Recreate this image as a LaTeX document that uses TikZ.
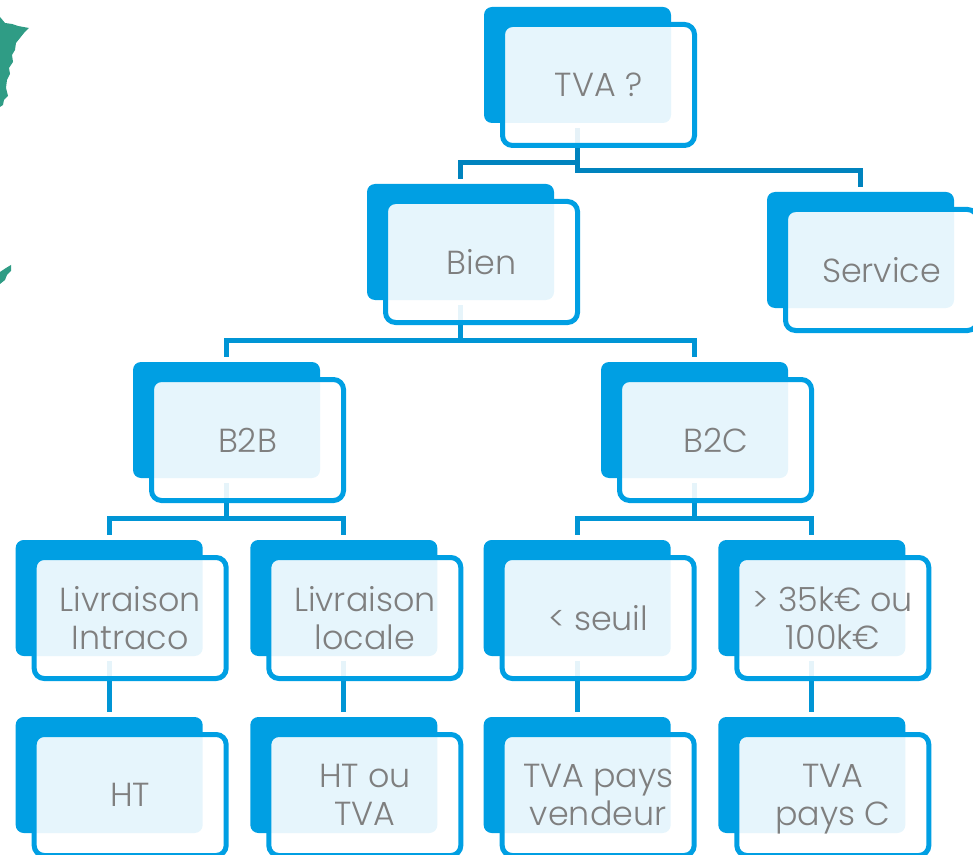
\documentclass[tikz,border=0pt]{standalone}
\usepackage{fontspec}
\usepackage{xcolor}
\usepackage{tikz}
\usetikzlibrary{calc}
\usetikzlibrary{positioning}
\setmainfont{Poppins}[UprightFont=* Light]
\definecolor{boxblue}{HTML}{009FE3}
\definecolor{linkdark}{HTML}{0083BE}
\definecolor{linkblue}{HTML}{0095D5}
\definecolor{greytext}{HTML}{7F7F7F}
\definecolor{mapgreen}{HTML}{2F9C85}
\begin{document}
\begin{tikzpicture}[x=0.75pt,y=-0.75pt,-,node distance=88pt,on grid]
 	\tikzstyle{back}=[fill=boxblue, rounded corners=6pt, inner sep=0pt, minimum width=140.25pt, minimum height=87pt]
 	\tikzstyle{front}=[draw=boxblue, line width=3.75pt, fill=white, fill opacity=0.9, text opacity=1, rounded corners=7.5pt, inner sep=0pt, minimum width=144pt, minimum height=90.75pt, text=greytext, align=center, text depth=0pt, font=\fontsize{25}{28.5}\selectfont]
 	\tikzstyle{elbow}=[line width=3.75pt, shorten <=3.75pt, shorten >=3.75pt, to path={(\tikztostart) |- ($(\tikztotarget.north)+(0,-21)$) -- (\tikztotarget.north)}]
 	\tikzstyle{link}=[line width=3.75pt, shorten <=3.75pt, shorten >=3.75pt]
 	\clip (0,0) rectangle (973,855);
 	\useasboundingbox (0,0) rectangle (973,855);
 	% map behind the chart
 	\fill[mapgreen] (0,17) -- (5,23) -- (12,24) -- (18,26) -- (29,28) -- (24,33) -- (20,38) -- (16,43) -- (15,50) -- (12,55) -- (13,62) -- (9,68) -- (10,74) -- (7,80) -- (6,88) -- (8,96) -- (4,100) -- (3,105) -- (0,107) -- cycle;
 	\fill[mapgreen] (0,272) -- (6,268) -- (11,265) -- (11,271) -- (7,275) -- (5,280) -- (0,284) -- cycle;
 	% solid boxes
 	\node[back] (tva) at (577.5,65) {};
 	\node[back] (bien) [below left=132.75pt and 87.75pt of tva] {};
 	\node[back] (service) [below right=138.75pt and 212.25pt of tva] {};
 	\node[back] (btob) [below left=133.5pt and 175.5pt of bien] {};
 	\node[back] (btoc) [below right=133.5pt and 175.5pt of bien] {};
 	\node[back] (intraco) [below left=133.5pt and 88pt of btob] {};
 	\node[back] (locale) [below right=133.5pt and 88pt of btob] {};
 	\node[back] (seuil) [below left=133.5pt and 88pt of btoc] {};
 	\node[back] (plafond) [below right=133.5pt and 88pt of btoc] {};
 	\node[back] (ht) [below=132.75pt of intraco] {};
 	\node[back] (htou) [below=132.75pt of locale] {};
 	\node[back] (vendeur) [below=132.75pt of seuil] {};
 	\node[back] (client) [below=132.75pt of plafond] {};
 	% connectors
 	\path[draw=linkdark]
 	(tva.south) edge[elbow] (bien)
 	(tva.south) edge[elbow] (service);
 	\path[draw=linkblue]
 	(bien.south) edge[elbow] (btob)
 	(bien.south) edge[elbow] (btoc)
 	(btob.south) edge[elbow] (intraco)
 	(btob.south) edge[elbow] (locale)
 	(btoc.south) edge[elbow] (seuil)
 	(btoc.south) edge[elbow] (plafond)
 	(intraco.south) edge[link] (ht.north)
 	(locale.south) edge[link] (htou.north)
 	(seuil.south) edge[link] (vendeur.north)
 	(plafond.south) edge[link] (client.north);
 	% outlined boxes with the texts
 	\node[front] (tvaF) [below right=15pt and 15.75pt of tva] {TVA ?};
 	\node[front] (bienF) [below right=15pt and 15.75pt of bien] {Bien};
 	\node[front] (serviceF) [below right=15pt and 15.75pt of service] {Service};
 	\node[front] (btobF) [below right=15pt and 15.75pt of btob] {B2B};
 	\node[front] (btocF) [below right=15pt and 15.75pt of btoc] {B2C};
 	\node[front] (intracoF) [below right=15pt and 15.75pt of intraco] {Livraison\\Intraco};
 	\node[front] (localeF) [below right=15pt and 15.75pt of locale] {Livraison\\locale};
 	\node[front] (seuilF) [below right=15pt and 15.75pt of seuil] {< seuil};
 	\node[front] (plafondF) [below right=15pt and 15.75pt of plafond] {> 35k€ ou\\100k€};
 	\node[front] (htF) [below right=15pt and 15.75pt of ht] {HT};
 	\node[front] (htouF) [below right=15pt and 15.75pt of htou] {HT ou\\TVA};
 	\node[front] (vendeurF) [below right=15pt and 15.75pt of vendeur] {TVA pays\\vendeur};
 	\node[front] (clientF) [below right=15pt and 15.75pt of client] {TVA\\pays C};
\end{tikzpicture}
\end{document}
